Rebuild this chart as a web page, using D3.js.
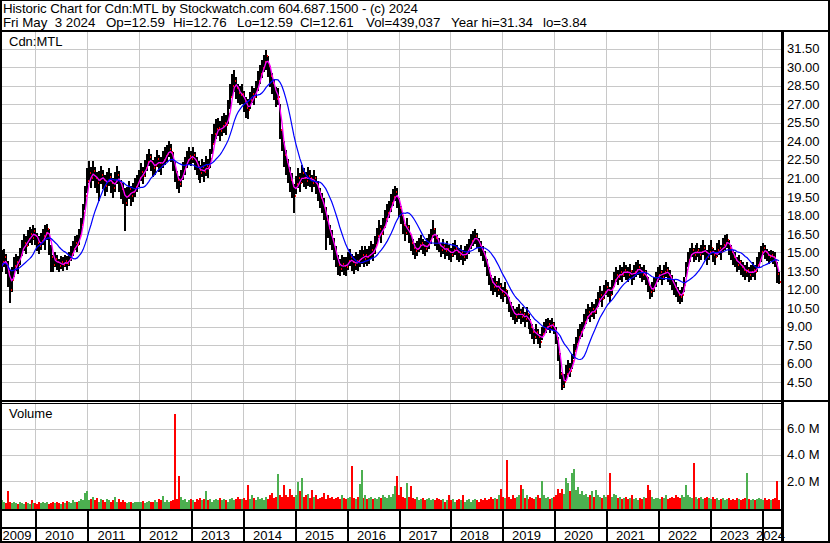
<!DOCTYPE html>
<html><head><meta charset="utf-8">
<script src="https://cdn.jsdelivr.net/npm/d3@7"></script>
<style>
body{margin:0;background:#fff}
svg{display:block}
text{font-family:"Liberation Sans",Arial,sans-serif;fill:#000}
</style>
</head><body><svg id="c" width="830" height="543"></svg>
<script>
// ---------------- data (bi-weekly bars, Cdn:MTL) ----------------
const startDate = "2009-04-24";
const endDate = "2024-05-03";
const closes = [
13.6,14.2,14.6,14.0,13.4,12.0,12.8,13.9,14.2,14.0,14.8,15.3,15.8,15.5,16.1,16.5,16.2,16.7,
16.3,15.8,15.5,15.9,16.3,16.6,16.9,16.0,14.6,14.0,14.5,14.2,13.9,14.2,14.0,14.3,14.1,14.5,14.9,15.3,15.8,15.6,16.3,17.2,18.2,19.6,
20.8,21.4,21.0,21.6,21.0,20.6,20.9,21.3,20.9,20.4,20.8,21.1,20.6,20.2,20.8,21.3,20.7,20.1,19.8,19.0,19.6,20.1,19.6,19.9,20.3,20.6,
21.0,21.5,21.2,21.8,22.3,22.7,22.3,21.8,22.0,22.6,22.2,22.0,22.5,22.8,23.0,23.4,23.1,22.4,21.5,20.9,20.5,21.0,21.6,22.0,22.5,22.8,
22.6,22.9,22.4,22.0,21.7,21.4,21.9,21.5,22.0,21.8,22.6,23.8,24.6,25.0,25.1,24.8,25.2,25.5,25.3,26.2,27.6,28.5,28.9,28.3,27.9,27.7,
27.8,27.2,26.7,26.5,27.3,27.8,27.6,28.2,28.9,29.4,29.9,30.4,30.9,30.1,29.3,28.7,28.2,27.4,27.6,24.9,24.0,22.9,22.3,21.6,20.9,20.4,
19.6,20.5,21.0,20.6,21.4,21.0,20.8,21.2,21.0,20.6,21.0,20.5,20.0,19.4,19.0,18.6,17.6,17.0,16.4,16.0,15.3,14.6,14.0,13.7,14.1,13.9,
13.8,14.3,14.6,14.2,14.0,14.3,14.2,14.5,14.8,14.5,14.8,14.6,14.8,15.2,15.0,15.6,16.3,16.9,16.5,17.1,17.7,18.2,18.5,19.0,19.5,19.9,19.4,
18.6,18.0,17.2,16.6,17.1,16.5,15.8,15.4,15.1,15.3,15.6,15.8,15.5,15.3,15.6,15.9,16.3,16.9,16.2,15.8,15.6,15.2,15.5,15.1,15.3,15.0,
14.8,15.2,15.4,15.0,14.8,15.0,14.6,14.9,15.1,15.5,15.9,16.1,16.3,16.0,15.6,15.3,14.9,14.5,13.8,13.1,12.6,12.2,12.5,12.0,12.3,11.8,
11.6,12.0,11.4,10.8,10.4,10.1,9.8,10.0,10.2,9.8,10.0,9.6,10.0,9.4,9.0,8.6,8.2,8.6,8.2,7.8,8.4,8.8,9.0,9.2,9.0,9.2,
8.8,8.0,6.8,5.2,4.2,4.5,5.2,5.6,5.4,6.2,7.0,7.6,8.2,8.6,8.8,9.4,9.8,10.2,10.0,10.4,10.2,10.6,11.2,11.6,11.2,11.8,
12.2,12.0,11.6,12.2,12.8,13.2,13.0,13.4,13.2,13.6,13.4,13.2,13.5,13.0,13.4,13.6,13.8,13.5,13.2,13.4,13.0,12.4,11.8,12.0,12.4,12.8,
13.2,13.4,13.0,13.4,13.6,13.2,13.0,12.6,12.2,12.0,11.6,11.4,11.6,12.4,13.6,14.4,14.8,15.2,14.8,15.0,15.2,14.8,15.0,15.4,15.0,14.6,
15.0,15.4,14.8,14.6,15.2,15.4,15.0,15.6,15.8,16.0,15.4,15.0,14.6,14.4,14.0,14.2,13.8,13.6,13.4,13.6,13.2,13.4,13.6,13.4,14.0,14.4,
15.0,15.4,15.0,14.8,14.6,14.8,14.6,14.4,13.3,12.61
];
const highs = [
14.8,15.2,15.3,14.9,14.3,13.6,13.8,14.6,14.9,14.7,15.4,16.0,16.5,16.3,16.8,17.1,16.9,17.2,
17.0,16.6,16.3,16.6,16.9,17.2,17.3,16.9,15.6,14.8,15.0,14.8,14.5,14.7,14.6,14.8,14.7,15.0,15.5,15.9,16.3,16.4,16.9,17.8,18.9,20.4,
21.8,22.4,21.9,22.4,21.9,21.5,21.6,22.0,21.7,21.3,21.5,21.8,21.4,21.0,21.5,22.0,21.6,20.9,20.6,20.2,20.3,20.8,20.4,20.6,21.0,21.3,
21.7,22.2,21.9,22.5,23.0,23.4,23.0,22.5,22.7,23.3,22.9,22.7,23.2,23.5,23.7,24.0,23.8,23.1,22.3,21.6,21.2,21.7,22.3,22.7,23.2,23.5,
23.2,23.5,23.1,22.7,22.4,22.1,22.6,22.3,22.8,22.6,23.4,24.6,25.4,25.8,25.9,25.6,26.0,26.3,26.1,27.3,28.6,29.4,29.8,29.2,28.6,28.5,
28.6,28.1,27.6,27.4,28.0,28.5,28.3,28.9,29.7,30.2,30.6,31.0,31.34,30.9,30.1,29.5,29.0,28.4,28.3,27.0,25.0,24.0,23.3,22.6,21.9,21.4,
20.5,21.2,21.8,21.4,22.1,21.8,21.5,21.9,21.7,21.3,21.7,21.2,20.8,20.2,19.8,19.4,18.7,18.0,17.2,16.8,16.2,15.5,14.8,14.5,14.8,14.6,
14.6,15.0,15.3,14.9,14.7,15.0,14.9,15.2,15.5,15.2,15.5,15.3,15.5,15.9,15.7,16.3,17.0,17.6,17.2,17.8,18.4,18.9,19.2,19.7,20.1,20.4,20.2,
19.4,18.8,18.0,17.3,17.8,17.2,16.5,16.1,15.8,15.9,16.2,16.4,16.1,15.9,16.2,16.5,16.9,17.6,17.0,16.4,16.2,15.8,16.1,15.7,15.9,15.6,
15.4,15.8,16.0,15.6,15.4,15.6,15.2,15.5,15.7,16.1,16.5,16.7,16.9,16.6,16.2,15.9,15.5,15.1,14.5,13.8,13.2,12.9,13.1,12.7,12.9,12.5,
12.2,12.6,12.0,11.4,11.0,10.7,10.4,10.6,10.8,10.4,10.6,10.2,10.6,10.0,9.6,9.2,8.8,9.2,8.8,8.4,9.0,9.4,9.6,9.7,9.5,9.7,
9.4,9.0,8.2,6.9,5.3,5.2,5.9,6.3,6.1,6.8,7.6,8.2,8.8,9.2,9.4,10.0,10.4,10.8,10.6,11.0,10.8,11.2,11.8,12.3,11.9,12.4,
12.8,12.6,12.2,12.8,13.4,13.8,13.6,14.0,13.8,14.2,14.0,13.8,14.1,13.6,14.0,14.2,14.4,14.1,13.8,14.0,13.6,13.0,12.4,12.6,13.0,13.4,
13.8,14.0,13.6,14.0,14.2,13.8,13.6,13.2,12.8,12.6,12.2,12.0,12.2,13.0,14.2,15.0,15.4,15.8,15.4,15.6,15.8,15.4,15.6,16.0,15.6,15.2,
15.6,16.0,15.4,15.2,15.8,16.0,15.6,16.2,16.4,16.5,16.0,15.6,15.2,15.0,14.6,14.8,14.4,14.2,14.0,14.2,13.8,14.0,14.2,14.0,14.6,15.0,
15.5,15.8,15.6,15.3,15.1,15.2,15.1,15.0,14.2,13.4
];
const lows = [
12.6,13.4,13.8,13.3,12.2,10.9,11.8,13.0,13.5,13.3,14.0,14.7,15.1,14.9,15.5,15.8,15.6,16.0,
15.6,15.1,14.9,15.2,15.6,15.2,16.0,14.8,13.4,13.4,13.8,13.6,13.4,13.7,13.5,13.8,13.6,13.9,14.3,14.7,15.2,15.0,15.6,16.4,17.3,18.4,
19.8,20.6,20.2,20.8,20.2,19.8,19.2,20.5,20.1,19.6,19.9,20.4,19.8,19.4,19.9,20.5,19.9,19.3,18.9,16.7,18.8,19.3,18.8,19.1,19.5,19.9,
20.3,20.8,20.5,21.1,21.6,22.0,21.6,21.1,21.3,21.9,21.5,21.3,21.8,22.1,22.3,22.7,22.3,21.6,20.7,20.1,19.8,20.3,20.9,21.3,21.8,22.1,
22.0,22.2,21.7,21.3,20.9,20.6,21.1,20.7,21.2,21.0,21.8,23.0,23.8,24.2,24.4,24.0,24.4,24.7,24.5,25.4,26.6,27.6,28.0,27.4,27.1,26.9,
27.0,26.4,25.9,25.8,26.6,27.1,26.9,27.5,28.1,28.6,29.1,29.6,29.8,29.2,28.4,27.8,27.3,26.8,26.9,24.2,23.2,21.9,21.3,20.6,19.9,19.4,
18.2,19.7,20.2,19.9,20.6,20.3,20.1,20.4,20.3,19.9,20.3,19.7,19.2,18.6,18.2,17.6,15.2,16.2,15.6,15.2,14.4,13.8,13.2,13.1,13.4,13.2,
13.1,13.6,13.9,13.5,13.3,13.6,13.5,13.8,14.1,13.8,14.1,13.9,14.1,14.5,14.3,14.9,15.6,16.2,15.8,16.4,17.0,17.5,17.8,18.3,18.8,19.2,18.6,
17.9,17.3,16.5,15.9,16.4,15.8,15.1,14.8,14.5,14.7,15.0,15.2,14.9,14.7,15.0,15.3,15.7,16.2,15.5,15.2,15.0,14.6,14.9,14.5,14.7,14.4,
14.2,14.6,14.8,14.4,14.2,14.4,14.0,14.3,14.5,14.9,15.3,15.5,15.7,15.4,15.0,14.7,14.3,13.8,13.1,12.4,11.9,11.6,11.8,11.4,11.6,11.2,
11.0,11.4,10.8,10.2,9.8,9.5,9.2,9.4,9.6,9.2,9.4,9.0,9.4,8.8,8.4,8.0,7.6,8.0,7.6,7.3,7.9,8.3,8.5,8.7,8.5,8.7,
8.4,7.6,6.2,4.8,3.84,4.0,4.6,5.1,4.9,5.6,6.4,7.0,7.6,8.0,8.2,8.8,9.2,9.6,9.4,9.8,9.6,10.0,10.6,11.0,10.6,11.2,
11.6,11.4,11.0,11.6,12.2,12.6,12.4,12.8,12.6,13.0,12.8,12.6,12.9,12.4,12.8,13.0,13.2,12.9,12.6,12.8,12.4,11.8,11.2,11.4,11.8,12.2,
12.6,12.8,12.4,12.8,13.0,12.6,12.4,12.0,11.6,11.4,11.0,10.8,11.0,11.8,13.0,13.8,14.2,14.6,14.2,14.4,14.6,14.2,14.4,14.8,14.4,14.0,
14.4,14.8,14.2,14.0,14.6,14.8,14.4,15.0,15.2,15.4,14.8,14.4,14.0,13.8,13.4,13.6,13.2,13.0,12.8,13.0,12.6,12.8,13.0,12.8,13.4,13.8,
14.2,14.8,14.5,14.3,14.1,14.3,14.1,13.8,12.5,12.45
];
// volume in millions of shares
const volumes = [
1.6,0.5,0.4,0.3,1.2,0.4,0.3,0.35,0.3,0.25,0.4,0.3,0.2,0.35,0.3,0.25,0.5,0.3,
0.3,0.25,0.35,0.3,0.4,0.3,0.35,0.25,0.3,0.4,0.3,0.35,0.3,0.25,0.4,0.3,0.45,0.35,0.3,0.5,0.4,0.35,0.45,0.6,0.5,1.1,
1.2,0.5,0.6,0.8,0.5,0.7,0.4,0.6,0.5,0.4,0.6,0.5,0.4,0.5,0.8,0.4,0.6,0.4,0.5,0.4,0.3,0.4,0.35,0.3,0.4,0.35,
0.4,0.35,0.45,0.3,0.4,0.45,0.35,0.4,0.5,0.4,0.6,0.5,0.85,0.4,0.5,0.4,0.45,0.5,7.1,0.6,2.35,0.8,0.5,0.6,0.4,0.5,
0.6,0.5,0.4,0.6,0.5,0.7,0.5,0.6,1.2,0.5,0.6,0.4,0.5,0.6,0.5,0.7,0.5,0.6,0.5,0.4,0.6,0.7,0.5,0.6,0.8,0.6,
0.6,0.7,0.5,1.7,0.6,0.9,0.7,0.5,0.8,0.6,0.7,0.5,0.8,0.6,0.9,1.05,0.7,0.8,2.5,0.9,0.8,1.7,0.9,0.8,1.4,0.9,
0.8,0.9,1.9,1.2,2.2,0.8,0.9,1.0,0.7,1.3,0.8,0.9,0.6,0.7,0.8,1.05,0.6,0.9,0.7,0.8,0.6,0.7,0.8,0.6,0.9,0.7,
0.6,0.7,0.8,3.1,0.7,0.6,0.8,1.75,2.85,0.7,0.9,0.6,0.7,0.8,0.6,0.7,0.6,0.8,0.7,0.9,0.8,0.7,0.9,0.8,1.0,1.6,2.35,
0.9,1.5,0.8,0.7,1.85,0.8,1.6,0.7,0.6,0.8,0.5,0.6,0.7,0.5,0.6,0.7,0.5,0.6,0.5,0.7,0.6,0.5,0.6,0.4,0.5,0.9,
0.5,0.6,0.4,0.5,0.6,0.5,0.9,0.4,0.5,0.6,0.4,0.5,0.6,0.5,0.4,0.6,0.5,0.7,0.5,0.6,0.8,0.6,0.7,0.6,0.9,1.4,
0.8,0.7,3.6,0.8,0.6,0.9,0.7,0.8,0.9,1.7,1.4,0.7,0.9,0.6,0.8,0.7,0.6,0.8,0.9,0.7,2.0,0.9,0.7,0.8,0.6,0.7,
0.8,0.9,1.4,1.1,1.4,1.0,2.2,1.8,1.2,2.6,2.9,1.3,1.5,1.0,1.2,0.9,1.0,0.8,0.9,1.2,0.8,1.3,0.9,0.8,0.7,0.9,
0.8,0.9,2.6,0.8,1.0,0.9,0.7,0.8,0.6,0.7,0.8,0.6,0.7,0.9,0.6,0.7,0.5,0.7,0.6,0.8,0.7,1.65,1.3,0.8,0.6,0.7,
0.7,0.6,0.8,0.7,0.9,0.6,0.7,0.8,0.7,0.9,0.8,0.7,0.9,0.8,1.7,0.9,0.8,0.7,3.4,0.8,0.6,0.7,0.8,0.6,0.7,0.8,
0.7,0.6,0.8,0.6,0.7,0.5,0.6,0.7,0.5,0.6,0.7,0.5,0.6,0.5,0.7,0.6,0.5,0.6,0.7,2.6,0.6,0.5,0.6,0.5,0.6,0.7,
0.6,0.5,0.7,0.5,0.6,0.5,0.6,0.7,2.0,0.5
];
const priceTicks = [31.5,30,28.5,27,25.5,24,22.5,21,19.5,18,16.5,15,13.5,12,10.5,9,7.5,6,4.5];
const volTicks = [2,4,6];
const years = [2009,2010,2011,2012,2013,2014,2015,2016,2017,2018,2019,2020,2021,2022,2023,2024];
const symbol = "Cdn:MTL";
const title = "Historic Chart for Cdn:MTL by Stockwatch.com 604.687.1500 - (c) 2024";
const statLabels = ["Fri May  3 2024","Op=12.59","Hi=12.76","Lo=12.59","Cl=12.61","Vol=439,037","Year hi=31.34","lo=3.84"];
const statX = [3,106,173,237,300,366,451,543];

// ---------------- layout ----------------
const W = 830, H = 543;
const L = 2, R = 781;
const pTop = 32, pBot = 400, vTop = 403, vBot = 509;
const svg = d3.select("#c");
const parse = d3.utcParse("%Y-%m-%d");
const t0 = parse(startDate), t1 = parse(endDate);
const data = closes.map((c,i)=>({date:d3.utcDay.offset(t0,14*i), c, h:highs[i], l:lows[i], v:volumes[i], p:i?closes[i-1]:c}));

const x = d3.scaleUtc().domain([t0,t1]).range([-0.3,779]);
const y = d3.scaleLinear().domain([4.5,31.5]).range([382.3,48.5]);
const yv = d3.scaleLinear().domain([0,6]).range([507,428.5]);

svg.append("rect").attr("width",W).attr("height",H).attr("fill","#fff");
const defs = svg.append("defs");
defs.append("clipPath").attr("id","cp").append("rect").attr("x",L).attr("y",pTop).attr("width",R-L).attr("height",pBot-pTop);
defs.append("clipPath").attr("id","cv").append("rect").attr("x",L).attr("y",vTop).attr("width",R-L).attr("height",vBot-vTop);

const grid = "#c8c8c8";
const yearX = years.slice(1).map(yr=>Math.round(x(new Date(Date.UTC(yr,0,1)))));

// vertical gridlines
const g = svg.append("g").attr("shape-rendering","crispEdges");
yearX.forEach(px=>{
  g.append("line").attr("x1",px+0.5).attr("x2",px+0.5).attr("y1",pTop).attr("y2",pBot).attr("stroke",grid);
  g.append("line").attr("x1",px+0.5).attr("x2",px+0.5).attr("y1",vTop).attr("y2",vBot).attr("stroke",grid);
});
// horizontal gridlines via axes
const pg = svg.append("g").attr("transform",`translate(${L},0)`)
  .call(d3.axisRight(y).tickValues(priceTicks).tickSize(R-L).tickFormat(""));
const vg = svg.append("g").attr("transform",`translate(${L},0)`)
  .call(d3.axisRight(yv).tickValues(volTicks).tickSize(R-L).tickFormat(""));
[pg,vg].forEach(a=>{a.select(".domain").remove();a.selectAll("line").attr("stroke",grid).attr("shape-rendering","crispEdges");});

// volume bars
svg.append("g").attr("clip-path","url(#cv)").attr("shape-rendering","crispEdges")
  .selectAll("rect").data(data).join("rect")
  .attr("x",d=>Math.round(x(d.date))-1).attr("width",2)
  .attr("y",d=>Math.round(yv(d.v))).attr("height",d=>vBot-Math.round(yv(d.v)))
  .attr("fill",d=>d.c>d.p?"#4caf50":(d.c<d.p?"#ff0000":"#a0a0a0"));

// price bars
const pp = svg.append("g").attr("clip-path","url(#cp)");
pp.append("g").attr("shape-rendering","crispEdges").selectAll("rect").data(data).join("rect")
  .attr("x",d=>Math.round(x(d.date))-1).attr("width",2)
  .attr("y",d=>Math.round(y(d.h))).attr("height",d=>Math.max(1,Math.round(y(d.l))-Math.round(y(d.h))))
  .attr("fill","#000");
pp.append("g").attr("shape-rendering","crispEdges").selectAll("rect").data(data).join("rect")
  .attr("x",d=>Math.round(x(d.date))+1).attr("width",1)
  .attr("y",d=>Math.round(y(d.c))-1).attr("height",2)
  .attr("fill","#ff0000");

// moving averages
function sma(arr,n){return arr.map((_,i)=>d3.mean(arr.slice(Math.max(0,i-n+1),i+1)));}
const maShort = sma(closes,3), maLong = sma(closes,13);
const line = vals => d3.line().x((d,i)=>x(data[i].date)).y(d=>y(d))(vals);
pp.append("path").attr("d",line(maShort)).attr("fill","none").attr("stroke","#ff00ff").attr("stroke-width",1.3);
pp.append("path").attr("d",line(maLong)).attr("fill","none").attr("stroke","#0000ff").attr("stroke-width",1.2);

// right axes labels
const pa = svg.append("g").attr("transform",`translate(784,0)`)
  .call(d3.axisRight(y).tickValues(priceTicks).tickSize(0).tickPadding(3).tickFormat(d3.format(".2f")));
const va = svg.append("g").attr("transform",`translate(784,0)`)
  .call(d3.axisRight(yv).tickValues(volTicks).tickSize(0).tickPadding(3).tickFormat(d=>d.toFixed(1)+" M"));
[pa,va].forEach(a=>{a.select(".domain").remove();a.selectAll("text").attr("font-size",13).attr("font-family","Liberation Sans, Arial, sans-serif").attr("fill","#000");});

// frames
const f = svg.append("g").attr("shape-rendering","crispEdges").attr("fill","#000");
f.append("rect").attr("x",0).attr("y",0).attr("width",W).attr("height",1);
f.append("rect").attr("x",0).attr("y",0).attr("width",2).attr("height",H);
f.append("rect").attr("x",W-2).attr("y",0).attr("width",2).attr("height",H);
f.append("rect").attr("x",0).attr("y",H-2).attr("width",W).attr("height",2);
f.append("rect").attr("x",0).attr("y",30).attr("width",W).attr("height",2);
f.append("rect").attr("x",R).attr("y",30).attr("width",3).attr("height",H-30);
f.append("rect").attr("x",0).attr("y",400).attr("width",W).attr("height",2);
f.append("rect").attr("x",0).attr("y",403).attr("width",R).attr("height",1);
f.append("rect").attr("x",0).attr("y",509).attr("width",R).attr("height",2);
f.append("rect").attr("x",0).attr("y",527).attr("width",R).attr("height",2);
yearX.forEach(px=>f.append("rect").attr("x",px).attr("y",509).attr("width",2).attr("height",H-509));

// year labels
const bounds = [L].concat(yearX).concat([R+1]);
svg.append("g").selectAll("text").data(years).join("text")
  .attr("x",(d,i)=>(bounds[i]+bounds[i+1])/2-1.5).attr("y",540)
  .attr("text-anchor","middle").attr("font-size",13).text(d=>d);

// texts
svg.append("text").attr("x",3).attr("y",13).attr("font-size",13.3)
  .attr("textLength",415).attr("lengthAdjust","spacing").text(title);
svg.append("g").selectAll("text").data(statLabels).join("text")
  .attr("x",(d,i)=>statX[i]).attr("y",27).attr("font-size",13.3)
  .style("white-space","pre").text(d=>d);
svg.append("text").attr("x",9).attr("y",46).attr("font-size",13).text(symbol);
svg.append("text").attr("x",9).attr("y",418).attr("font-size",13).text("Volume");
</script></body></html>
